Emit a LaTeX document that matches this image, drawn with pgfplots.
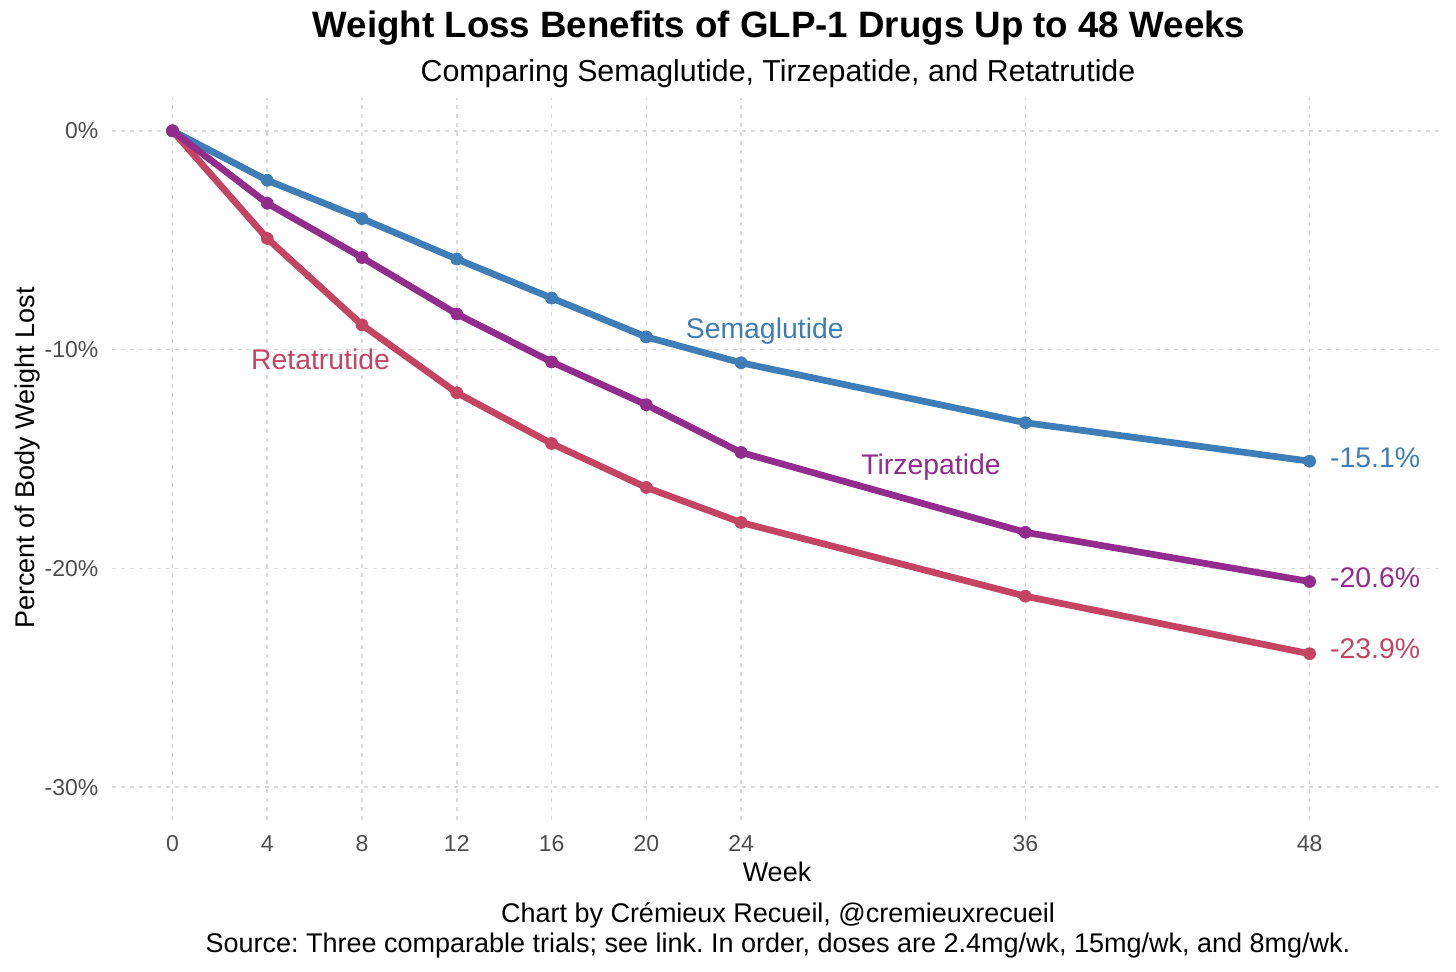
\documentclass[border=0pt]{standalone}
\usepackage{pgfplots}
\pgfplotsset{compat=1.18}
\usepackage{fontspec}
\setmainfont{Liberation Sans}
\frenchspacing
\definecolor{sema}{HTML}{3E7DB5}
\definecolor{tirz}{HTML}{922D8D}
\definecolor{reta}{HTML}{C44463}
\definecolor{gridc}{HTML}{DADADA}
\definecolor{tickc}{HTML}{4D4D4D}
\begin{document}
\begin{tikzpicture}[x=0.1mm,y=0.1mm]
\useasboundingbox (0,0) rectangle (1456,971);
\begin{axis}[
  at={(11.2mm,15.1mm)}, anchor=south west,
  scale only axis, width=133.1mm, height=72.2mm,
  xmin=-2.554, xmax=53.63, ymin=-31.5, ymax=1.5,
  xtick={0,4,8,12,16,20,24,36,48},
  xticklabels={0,4,8,12,16,20,24,36,48},
  ytick={-30,-20,-10,0},
  yticklabels={-30\%,-20\%,-10\%,0\%},
  grid=major,
  major grid style={gridc, line width=0.45pt, dash pattern=on 0.45mm off 0.45mm},
  axis line style={draw=none},
  major tick length=0pt,
  tick label style={font=\fontsize{6.54pt}{7.8pt}\selectfont, text=tickc},
  yticklabel style={anchor=east, inner sep=0pt, xshift=-1.3mm},
  xticklabel style={anchor=base, inner sep=0pt, yshift=-3.1mm},
  clip=false,
]
% lines
\addplot[reta, line width=0.67mm, line join=round] coordinates {
 (0,0) (4,-4.92) (8,-8.87) (12,-11.97) (16,-14.29) (20,-16.30) (24,-17.90) (36,-21.27) (48,-23.9)};
\addplot[sema, line width=0.67mm, line join=round] coordinates {
 (0,0) (4,-2.26) (8,-4.01) (12,-5.86) (16,-7.64) (20,-9.42) (24,-10.60) (36,-13.34) (48,-15.1)};
\addplot[tirz, line width=0.67mm, line join=round] coordinates {
 (0,0) (4,-3.31) (8,-5.79) (12,-8.37) (16,-10.56) (20,-12.52) (24,-14.70) (36,-18.35) (48,-20.6)};
% points
\addplot[reta, only marks, mark=*, mark size=0.6mm, mark options={solid, line width=0.2pt}] coordinates {
 (0,0) (4,-4.92) (8,-8.87) (12,-11.97) (16,-14.29) (20,-16.30) (24,-17.90) (36,-21.27) (48,-23.9)};
\addplot[sema, only marks, mark=*, mark size=0.6mm, mark options={solid, line width=0.2pt}] coordinates {
 (0,0) (4,-2.26) (8,-4.01) (12,-5.86) (16,-7.64) (20,-9.42) (24,-10.60) (36,-13.34) (48,-15.1)};
\addplot[tirz, only marks, mark=*, mark size=0.6mm, mark options={solid, line width=0.2pt}] coordinates {
 (0,0) (4,-3.31) (8,-5.79) (12,-8.37) (16,-10.56) (20,-12.52) (24,-14.70) (36,-18.35) (48,-20.6)};
% series labels
\node[anchor=base, inner sep=0pt, text=sema, font=\fontsize{8.08pt}{9.7pt}\selectfont] at (axis cs:25,-9.48) {Semaglutide};
\node[anchor=base, inner sep=0pt, text=tirz, font=\fontsize{8.08pt}{9.7pt}\selectfont] at (axis cs:32.02,-15.69) {Tirzepatide};
\node[anchor=base, inner sep=0pt, text=reta, font=\fontsize{8.08pt}{9.7pt}\selectfont] at (axis cs:6.25,-10.9) {Retatrutide};
\node[anchor=base west, inner sep=0pt, text=sema, font=\fontsize{8.08pt}{9.7pt}\selectfont] at (axis cs:48.84,-15.37) {-15.1\%};
\node[anchor=base west, inner sep=0pt, text=tirz, font=\fontsize{8.08pt}{9.7pt}\selectfont] at (axis cs:48.84,-20.88) {-20.6\%};
\node[anchor=base west, inner sep=0pt, text=reta, font=\fontsize{8.08pt}{9.7pt}\selectfont] at (axis cs:48.84,-24.12) {-23.9\%};
\end{axis}
% titles
\node[anchor=base, inner sep=0pt, font=\bfseries\fontsize{10.44pt}{12.5pt}\selectfont] at (779,933) {Weight Loss Benefits of GLP-1 Drugs Up to 48 Weeks};
\node[anchor=base, inner sep=0pt, font=\fontsize{8.62pt}{10.3pt}\selectfont] at (778,889) {Comparing Semaglutide, Tirzepatide, and Retatrutide};
% axis titles
\node[anchor=base, inner sep=0pt, font=\fontsize{7.68pt}{9.2pt}\selectfont] at (777,90) {Week};
\node[anchor=base, inner sep=0pt, rotate=90, font=\fontsize{7.68pt}{9.2pt}\selectfont] at (34,513) {Percent of Body Weight Lost};
% caption
\node[anchor=base, inner sep=0pt, font=\fontsize{7.68pt}{9.2pt}\selectfont] at (778,49) {Chart by Crémieux Recueil, @cremieuxrecueil};
\node[anchor=base, inner sep=0pt, font=\fontsize{7.68pt}{9.2pt}\selectfont] at (778,19) {Source: Three comparable trials; see link. In order, doses are 2.4mg/wk, 15mg/wk, and 8mg/wk.};
\end{tikzpicture}
\end{document}
